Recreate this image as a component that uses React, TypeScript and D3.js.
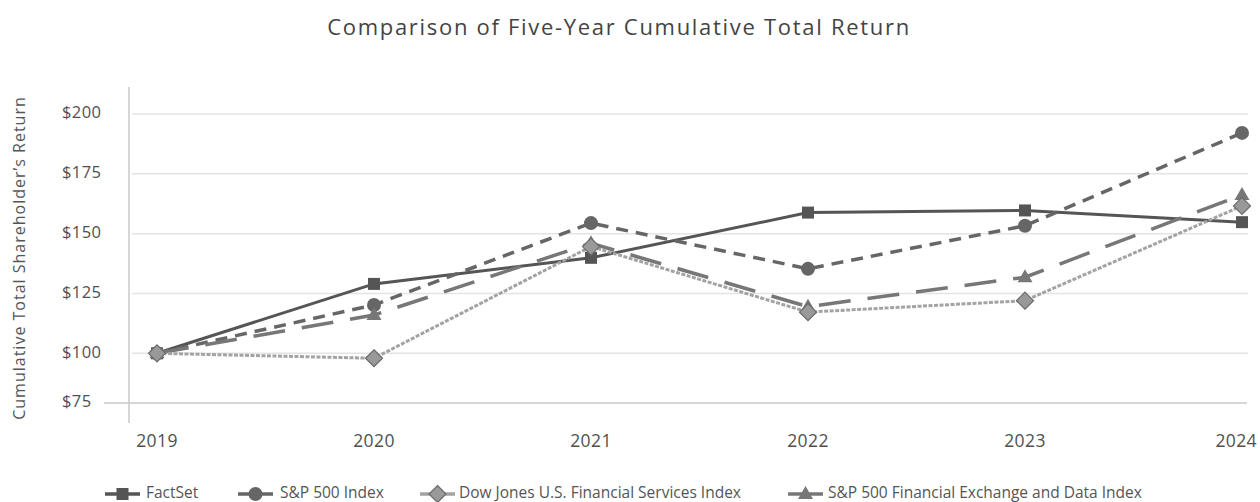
import React from "react";
import * as d3 from "d3";

const years = ["2019", "2020", "2021", "2022", "2023", "2024"];
const factset = [100, 129.0, 139.9, 158.8, 159.7, 154.8];
const sp500 = [100, 120.2, 154.4, 135.3, 153.3, 192.1];
const dowJones = [100, 97.5, 144.6, 117.2, 122.0, 161.6];
const spFinEx = [100, 116.0, 146.0, 119.5, 131.8, 166.2];
const yTicks = [75, 100, 125, 150, 175, 200];
const seriesNames = [
  "FactSet",
  "S&P 500 Index",
  "Dow Jones U.S. Financial Services Index",
  "S&P 500 Financial Exchange and Data Index",
];

const W = 1260;
const H = 502;
const FONT = "'Open Sans', sans-serif";

type Series = {
  name: string;
  values: number[];
  color: string;
  width: number;
  dash: string;
  marker: "square" | "circle" | "diamond" | "triangle";
  markerFill: string;
  markerStroke: string;
};

const series: Series[] = [
  { name: seriesNames[0], values: factset, color: "#555555", width: 3, dash: "", marker: "square", markerFill: "#555555", markerStroke: "#555555" },
  { name: seriesNames[1], values: sp500, color: "#666666", width: 3.5, dash: "12 8", marker: "circle", markerFill: "#666666", markerStroke: "#666666" },
  { name: seriesNames[3], values: spFinEx, color: "#777777", width: 3.5, dash: "32 17", marker: "triangle", markerFill: "#777777", markerStroke: "#777777" },
  { name: seriesNames[2], values: dowJones, color: "#a3a3a3", width: 3, dash: "4 1.5", marker: "diamond", markerFill: "#999999", markerStroke: "#6a6a6a" },
];

function Marker({ kind, x, y, fill, stroke }: { kind: string; x: number; y: number; fill: string; stroke: string }) {
  if (kind === "square") return <rect x={x - 6} y={y - 6} width={12} height={12} fill={fill} />;
  if (kind === "circle") return <circle cx={x} cy={y} r={7} fill={fill} />;
  if (kind === "diamond")
    return <path d={`M${x},${y - 8.5}L${x + 8.5},${y}L${x},${y + 8.5}L${x - 8.5},${y}Z`} fill={fill} stroke={stroke} strokeWidth={1.2} />;
  return <path d={`M${x},${y - 8}L${x + 7.5},${y + 5}L${x - 7.5},${y + 5}Z`} fill={fill} />;
}

export default function App() {
  const x = d3.scalePoint<string>().domain(years).range([157, 1242]);
  const y = d3.scaleLinear().domain([75, 100, 200]).range([403, 353.3, 114]);
  const line = d3
    .line<number>()
    .x((_, i) => x(years[i]) as number)
    .y((d) => y(d));

  const legendItems = [
    { s: series[0], mx: 105, tx: 146 },
    { s: series[1], mx: 238, tx: 280 },
    { s: series[3], mx: 420, tx: 459 },
    { s: series[2], mx: 788, tx: 828 },
  ];
  const ly = 494;

  return (
    <svg width={W} height={H} style={{ position: "absolute", left: 0, top: 0, background: "#fff" }} fontFamily={FONT}>
      <text x={619} y={35} textAnchor="middle" fontSize={22} fill="#444" letterSpacing={1.7}>
        Comparison of Five-Year Cumulative Total Return
      </text>
      <text transform={`translate(21,258) rotate(-90)`} textAnchor="middle" fontSize={16} fill="#555" letterSpacing={1.0} dominantBaseline="middle">
        Cumulative Total Shareholder’s Return
      </text>
      {yTicks.slice(1).map((t) => (
        <line key={t} x1={132} x2={1248} y1={y(t)} y2={y(t)} stroke="#e4e4e4" strokeWidth={1.5} />
      ))}
      <line x1={104} x2={1247} y1={y(75)} y2={y(75)} stroke="#c8c8c8" strokeWidth={1.5} />
      <line x1={129} x2={129} y1={87} y2={423} stroke="#c8c8c8" strokeWidth={1.5} />
      {yTicks.map((t) => (
        <text key={t} x={62} y={y(t)} dominantBaseline="middle" fontSize={16.5} fill="#505050" letterSpacing={0.4}>
          {"$" + t}
        </text>
      ))}
      {years.map((yr, i) => {
        const last = i === years.length - 1;
        return (
          <text
            key={yr}
            x={last ? 1257 : (x(yr) as number)}
            y={442}
            dominantBaseline="middle"
            textAnchor={last ? "end" : "middle"}
            fontSize={17.5}
            fill="#505050"
            letterSpacing={0.4}
          >
            {yr}
          </text>
        );
      })}
      {series.map((s) => (
        <g key={s.name}>
          <path d={line(s.values) || ""} fill="none" stroke={s.color} strokeWidth={s.width} strokeDasharray={s.dash} />
          {s.values.map((v, i) => (
            <Marker key={i} kind={s.marker} x={x(years[i]) as number} y={y(v)} fill={s.markerFill} stroke={s.markerStroke} />
          ))}
        </g>
      ))}
      {legendItems.map(({ s, mx, tx }) => (
        <g key={s.name}>
          <line x1={mx} x2={mx + 35} y1={ly} y2={ly} stroke={s.color} strokeWidth={3.5} />
          <Marker kind={s.marker} x={mx + 17.5} y={ly} fill={s.markerFill} stroke={s.markerStroke} />
          <text x={tx} y={ly} dominantBaseline="middle" fontSize={15.5} fill="#555">
            {s.name}
          </text>
        </g>
      ))}
    </svg>
  );
}
